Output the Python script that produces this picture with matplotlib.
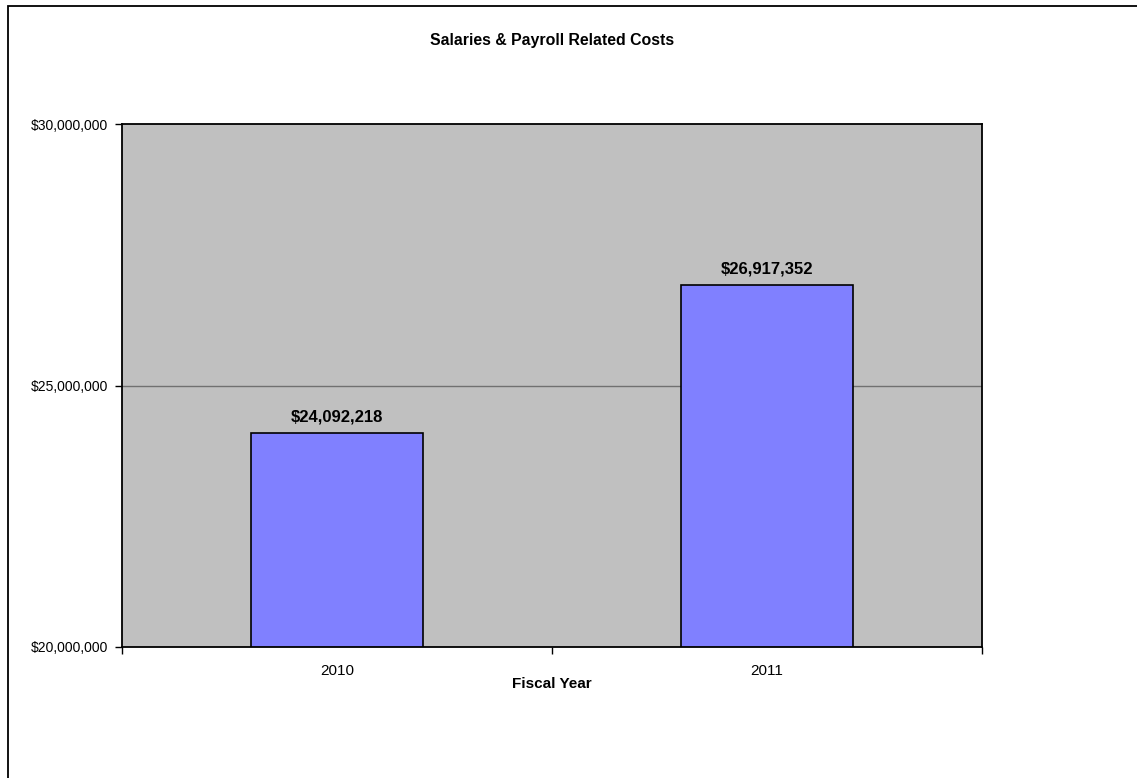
import matplotlib
matplotlib.use("Agg")
import matplotlib.pyplot as plt
from matplotlib.patches import Rectangle
from matplotlib.ticker import FuncFormatter, FixedLocator

# dados do grafico
anos = ["2010", "2011"]
valores = [24092218, 26917352]
y_min, y_max = 20000000, 30000000

plt.rcParams['font.family'] = ['Liberation Sans', 'DejaVu Sans']

fig = plt.figure(figsize=(11.37, 7.78), dpi=100)
W, H = 1137, 778

# borda externa da area do grafico
fig.patches.append(Rectangle((8 / W, -0.1), 1.2, 1 - 6 / H + 0.1, transform=fig.transFigure,
                             fill=False, edgecolor="black", linewidth=1.3))

# eixo: esquerda 122, direita 982, topo 124, base 647 (pixels)
ax = fig.add_axes([122 / W, 1 - 647 / H, 860 / W, 523 / H])
ax.set_facecolor("#C0C0C0")

pos = [0.5, 1.5]
ax.bar(pos, valores, width=0.4, color="#8080FF", edgecolor="black", linewidth=1.2, zorder=3)
ax.set_xlim(0, 2)
ax.set_ylim(y_min, y_max)

ax.axhline(25000000, color="#707070", linewidth=1, zorder=1)

for x, v in zip(pos, valores):
    ax.annotate("${:,.0f}".format(v), (x, v), xytext=(0, 6), textcoords="offset points",
                ha="center", va="bottom", fontsize=12, fontweight="bold", zorder=4)

ax.yaxis.set_major_locator(FixedLocator([20000000, 25000000, 30000000]))
ax.yaxis.set_major_formatter(FuncFormatter(lambda v, p: "${:,.0f}".format(v)))
ax.xaxis.set_major_locator(FixedLocator([0, 1, 2]))
ax.xaxis.set_minor_locator(FixedLocator(pos))
ax.set_xticklabels([])
ax.set_xticks(pos, anos, minor=True)
ax.tick_params(axis="x", which="minor", length=0, labelsize=11, pad=12)
ax.tick_params(axis="x", which="major", length=5, width=1)
ax.tick_params(axis="y", length=5, width=1, labelsize=10, pad=5)

for s in ax.spines.values():
    s.set_linewidth(1.3)
    s.set_zorder(5)

fig.text(552 / W, 1 - 684 / H, "Fiscal Year", ha="center", va="center",
         fontsize=11, fontweight="bold")
fig.text(552 / W, 1 - 40 / H, "Salaries & Payroll Related Costs", ha="center", va="center",
         fontsize=11.4, fontweight="bold")

fig.savefig("out.png", dpi=100)
